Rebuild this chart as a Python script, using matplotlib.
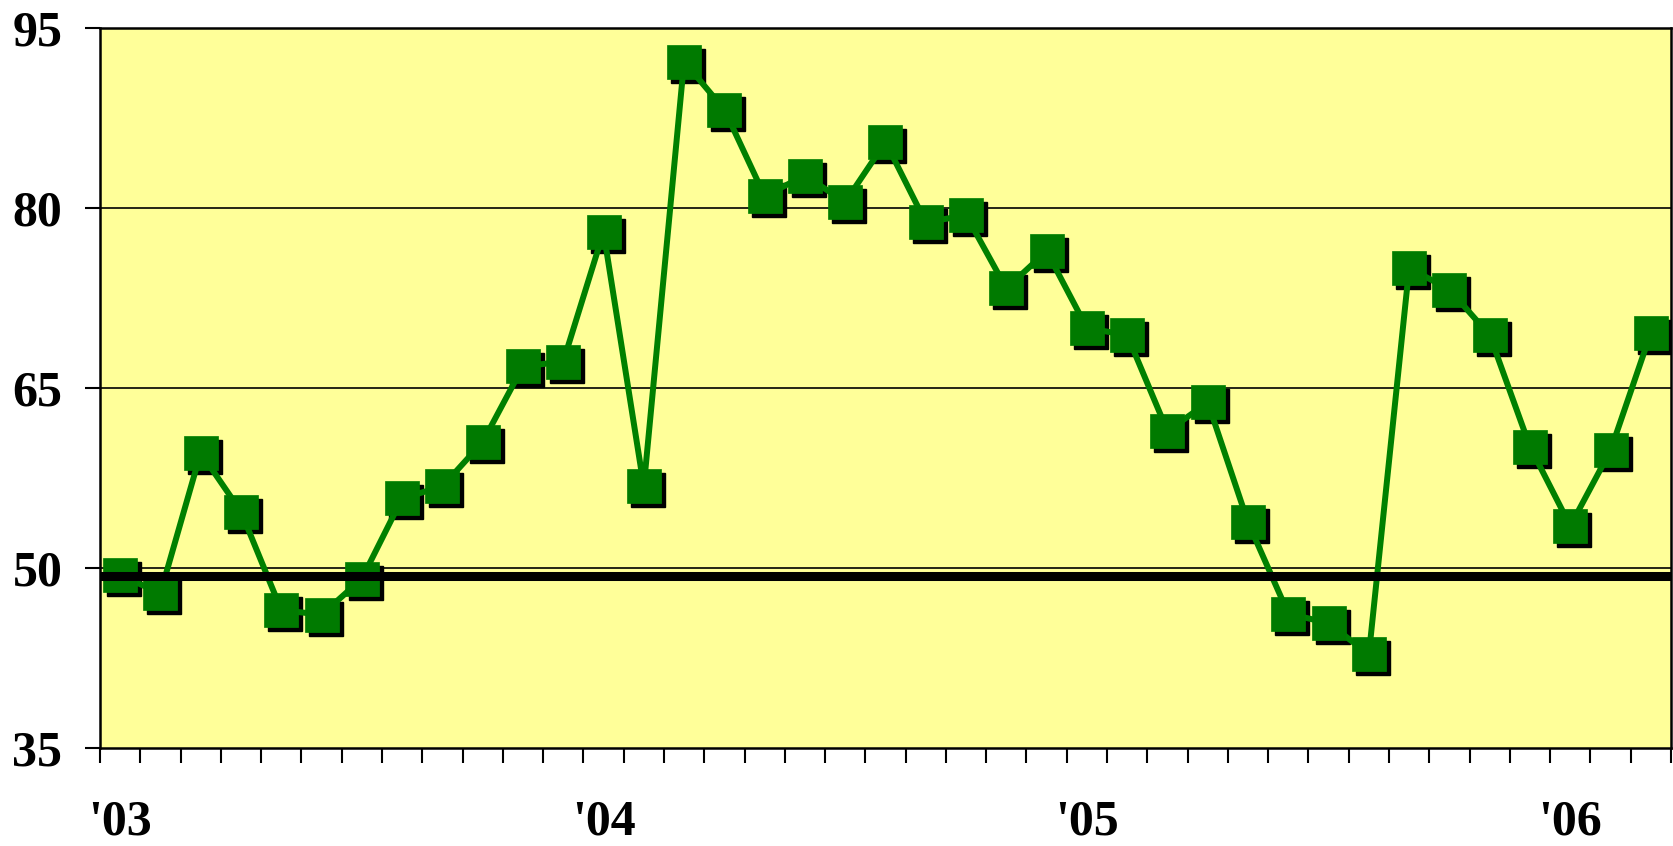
import numpy as np
import matplotlib
matplotlib.use('Agg')
import matplotlib.pyplot as plt
import matplotlib.transforms as mtrans

# monthly index, Jan '03 .. Mar '06
values = [49.4, 47.9, 59.6, 54.7, 46.5, 46.1, 49.1, 55.8, 56.8, 60.5,
          66.8, 67.2, 78.0, 56.8, 92.2, 88.2, 81.0, 82.7, 80.5, 85.5,
          78.8, 79.4, 73.3, 76.4, 70.0, 69.4, 61.4, 63.8, 53.8, 46.2,
          45.4, 42.8, 75.0, 73.2, 69.4, 60.1, 53.5, 59.8, 69.6]
ref_level = 49.3
year_labels = ["'03", "'04", "'05", "'06"]
y_ticks = [35, 50, 65, 80, 95]

n = len(values)
x = np.arange(n)

fig = plt.figure(figsize=(16.74, 8.46), dpi=100)
ax = fig.add_axes([100/1674, 98/846, 1571/1674, 720/846])
ax.set_facecolor('#FFFF99')

ax.set_xlim(-0.5, n - 0.5)
ax.set_ylim(35, 95)

for yv in y_ticks[1:-1]:
    ax.axhline(yv, color='black', lw=1.2, zorder=1)

# marker shadows
shadow = mtrans.offset_copy(ax.transData, fig=fig, x=4, y=-4, units='dots')
ax.plot(x, values, 's', color='black', ms=24, mec='black', transform=shadow, zorder=2)
ax.plot(x, values, '-', color='#008000', lw=4.3, zorder=3)
ax.plot(x, values, 's', color='#007A00', ms=24, mec='#008000', mew=0.5, zorder=4)

ax.axhline(ref_level, color='black', lw=6.5, zorder=5)

ax.set_yticks(y_ticks)
ax.set_yticklabels([str(v) for v in y_ticks])
ax.set_xticks(np.arange(n + 1) - 0.5)
ax.set_xticklabels([])
ax.set_xticks([0, 12, 24, 36], minor=True)
ax.set_xticklabels(year_labels, minor=True)

ax.tick_params(axis='y', length=11, width=1.5, pad=16, direction='out')
ax.tick_params(axis='x', which='major', length=11, width=1.5, direction='out')
ax.tick_params(axis='x', which='minor', length=0, pad=37)

for lab in ax.get_yticklabels() + ax.get_xticklabels(minor=True):
    lab.set_fontfamily('Liberation Serif')
    lab.set_fontweight('bold')
    lab.set_fontsize(36)

for sp in ax.spines.values():
    sp.set_linewidth(1.8)
    sp.set_color('black')

fig.savefig('out.png', dpi=100)
